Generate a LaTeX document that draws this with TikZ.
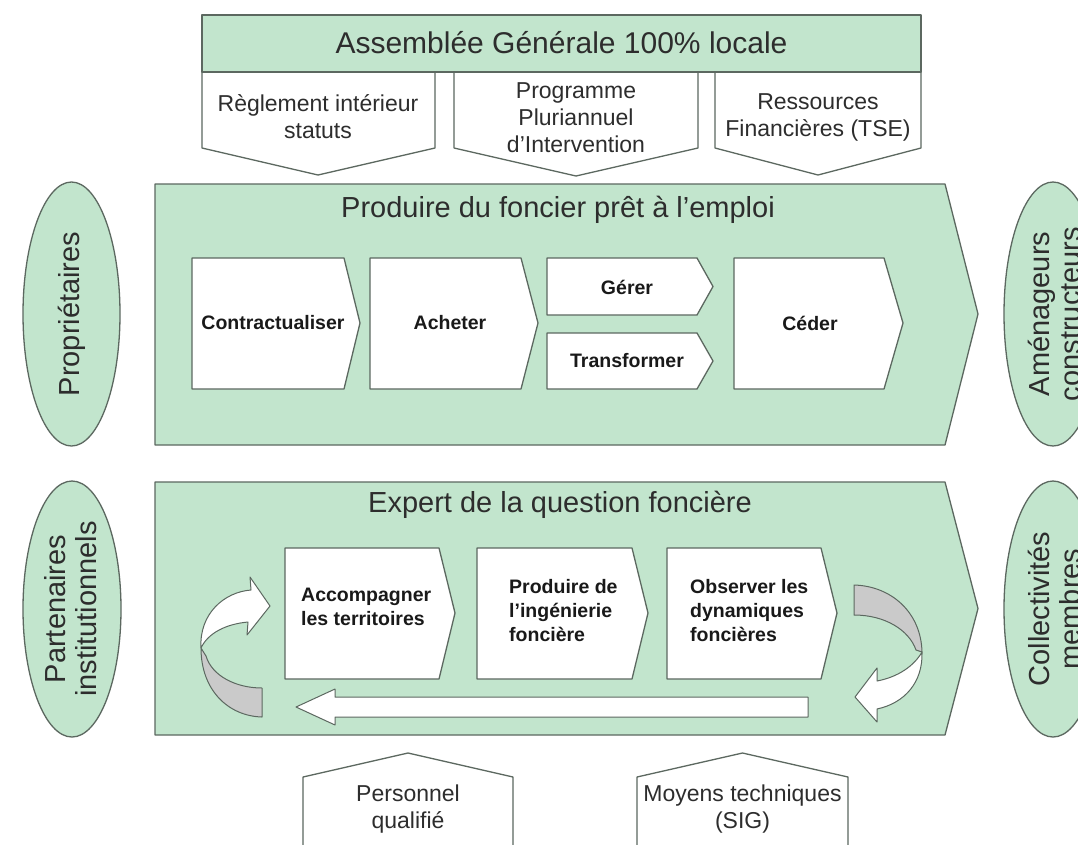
\documentclass[tikz,border=0pt]{standalone}
\usepackage{fontspec}
\setmainfont{Liberation Sans}
\definecolor{fillg}{RGB}{194,229,205}
\definecolor{edgec}{RGB}{92,104,96}
\definecolor{txt}{RGB}{45,45,45}
\definecolor{ribbon}{RGB}{202,202,202}
\begin{document}
\begin{tikzpicture}[x=1pt,y=-1pt,line join=round,
  gbox/.style={fill=fillg,draw=edgec,line width=1.3pt},
  wbox/.style={fill=white,draw=edgec,line width=1.3pt},
  rbox/.style={fill=ribbon,draw=edgec,line width=1pt},
  abox/.style={fill=white,draw=edgec,line width=1pt},
  bigtxt/.style={inner sep=0pt,text=txt,font=\fontsize{29}{32}\selectfont},
  midtxt/.style={inner sep=0pt,text=txt,align=center,font=\fontsize{23}{27}\selectfont},
  elltxt/.style={inner sep=0pt,text=txt,align=center,rotate=90,font=\fontsize{29}{31}\selectfont},
  boldtxt/.style={inner sep=0pt,text=black!90,font=\fontsize{19.5}{24}\selectfont\bfseries},
  bolddl/.style={inner sep=0pt,text=black!90,align=left,anchor=west,font=\fontsize{19.5}{24}\selectfont\bfseries}]
\clip (0,0) rectangle (1078,844);
\fill[white] (0,0) rectangle (1078,844);

% top inputs
\draw[wbox] (202,72) -- (435,72) -- (435,148) -- (318,175) -- (202,148) -- cycle;
\draw[wbox] (454,72) -- (698,72) -- (698,148) -- (576,176) -- (454,148) -- cycle;
\draw[wbox] (715,72) -- (921,72) -- (921,148) -- (818,175) -- (715,148) -- cycle;
\node[midtxt] (reg) at (318,117) {Règlement intérieur\\statuts};
\node[midtxt] (ppi) at (576,118) {Programme\\Pluriannuel\\d’Intervention};
\node[midtxt] (res) at (818,117) {Ressources\\Financières (TSE)};

% header
\draw[gbox] (202,15) rectangle (921,72);
\node[bigtxt,font=\fontsize{30}{32}\selectfont] (ag) at (561.5,43) {Assemblée Générale 100\% locale};

% ellipses
\draw[gbox] (71.5,314) ellipse [x radius=48.5,y radius=132];
\draw[gbox] (72,609) ellipse [x radius=49,y radius=128];
\draw[gbox] (1053,314) ellipse [x radius=49,y radius=132];
\draw[gbox] (1053,609) ellipse [x radius=49,y radius=128];
\node[elltxt] (prop) at (72,314) {Propriétaires};
\node[elltxt] (part) at (71,609) {Partenaires\\institutionnels};
\node[elltxt] (amen) at (1054,314) {Aménageurs\\constructeurs};
\node[elltxt] (coll) at (1054,609) {Collectivités\\membres};

% main process 1
\draw[gbox] (155,184) -- (945,184) -- (978,314) -- (945,445) -- (155,445) -- cycle;
\node[bigtxt] (t1) at (558,210) {Produire du foncier prêt à l’emploi};
\draw[wbox] (192,258) -- (344,258) -- (360,323) -- (344,389) -- (192,389) -- cycle;
\draw[wbox] (370,258) -- (521,258) -- (538,323) -- (521,389) -- (370,389) -- cycle;
\draw[wbox] (547,258) -- (697,258) -- (713,286.5) -- (697,315) -- (547,315) -- cycle;
\draw[wbox] (547,333) -- (697,333) -- (713,361) -- (697,389) -- (547,389) -- cycle;
\draw[wbox] (734,258) -- (884,258) -- (903,323) -- (884,389) -- (734,389) -- cycle;
\node[boldtxt] (c1) at (273,323) {Contractualiser};
\node[boldtxt] (c2) at (450,323) {Acheter};
\node[boldtxt] (c3) at (627,287) {Gérer};
\node[boldtxt] (c4) at (627,361) {Transformer};
\node[boldtxt] (c5) at (810,323) {Céder};

% main process 2
\draw[gbox] (155,482) -- (945,482) -- (978,608.5) -- (945,735) -- (155,735) -- cycle;
\node[bigtxt] (t2) at (560,505) {Expert de la question foncière};
\draw[wbox] (285,548) -- (439,548) -- (455,613) -- (439,679) -- (285,679) -- cycle;
\draw[wbox] (477,548) -- (632,548) -- (648,613) -- (632,679) -- (477,679) -- cycle;
\draw[wbox] (667,548) -- (821,548) -- (837,613) -- (821,679) -- (667,679) -- cycle;
\node[bolddl] (e1) at (301,607) {Accompagner\\les territoires};
\node[bolddl] (e2) at (509,611) {Produire de\\l'ingénierie\\foncière};
\node[bolddl] (e3) at (690,611) {Observer les\\dynamiques\\foncières};

% return arrow
\draw[abox] (808,697) -- (335,697) -- (335,689) -- (296,707) -- (335,725) -- (335,717) -- (808,717) -- cycle;

% left curved arrow
\draw[rbox] (201,648) .. controls (201,690) and (228,716) .. (262,717) -- (262,688) .. controls (236,688) and (212,676) .. (206,656) -- cycle;
\draw[abox] (201,648) .. controls (199,614) and (224,592) .. (251,590) -- (250,577) -- (270,606) -- (247,635) -- (248,622) .. controls (226,624) and (208,633) .. (201,648) -- cycle;

% right curved arrow
\draw[rbox] (854,585) .. controls (891,586) and (921,612) .. (922,652) -- (916,650) .. controls (909,630) and (885,615) .. (854,615) -- cycle;
\draw[abox] (922,652) .. controls (923,682) and (905,703) .. (877,709) -- (877,722) -- (855,697) -- (877,668) -- (877,681) .. controls (898,677) and (914,666) .. (922,652) -- cycle;

% bottom resources
\draw[wbox] (303,860) -- (303,777) -- (408,753) -- (513,777) -- (513,860);
\draw[wbox] (637,860) -- (637,777) -- (742.5,753) -- (848,777) -- (848,860);
\node[midtxt] (pers) at (408,809) {Personnel\\qualifié};
\node[midtxt] (moy) at (742.5,809) {Moyens techniques\\(SIG)};
\end{tikzpicture}
\end{document}
